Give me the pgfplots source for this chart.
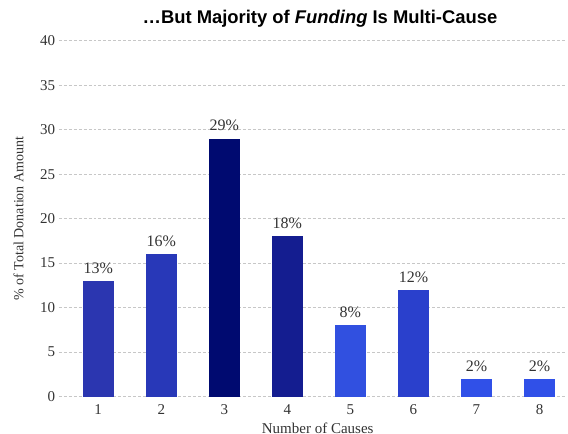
\documentclass[border=0pt]{standalone}
\usepackage{pgfplots}
\pgfplotsset{compat=1.18}
\usepackage{fontspec}
\setmainfont{Liberation Serif}
\newfontfamily\titlefont{Liberation Sans}
\definecolor{c1}{RGB}{43,54,176}
\definecolor{c2}{RGB}{40,56,184}
\definecolor{c3}{RGB}{0,10,112}
\definecolor{c4}{RGB}{20,29,144}
\definecolor{c5}{RGB}{49,80,224}
\definecolor{c6}{RGB}{42,64,204}
\definecolor{c7}{RGB}{48,80,232}
\definecolor{txt}{RGB}{51,51,51}
\begin{document}
\begin{tikzpicture}[x=1bp,y=1bp]
\path[use as bounding box] (0,0) rectangle (568,434);
\clip (0,0) rectangle (568,434);
\begin{axis}[
  at={(93,42)}, anchor=south west, scale only axis,
  width=508bp, height=356bp,
  xmin=0.372, xmax=8.43, ymin=0, ymax=40,
  ytick={0,5,...,40}, xtick={1,...,8},
  axis line style={draw=none}, tick style={draw=none},
  ymajorgrids, grid style={densely dashed, black!22},
  ticklabel style={font=\fontsize{15bp}{17bp}\selectfont, text=txt},
  /pgf/number format/assume math mode=true,
  ylabel={\% of Total Donation Amount},
  ylabel style={at={(axis description cs:-0.0787,0.5)}, anchor=center, font=\fontsize{14bp}{16bp}\selectfont, text=txt},
  xlabel={Number of Causes},
  xlabel style={at={(axis description cs:0.51,0)}, yshift=-32bp, anchor=center, font=\fontsize{15bp}{17bp}\selectfont, text=txt},
  ybar, bar width=31bp, bar shift=0pt,
  nodes near coords={\pgfmathprintnumber{\pgfplotspointmeta}\%},
  every node near coord/.append style={font=\fontsize{16bp}{18bp}\selectfont, text=txt, yshift=4bp},
]
\addplot[fill=c1, draw=none] coordinates {(1,13)};
\addplot[fill=c2, draw=none] coordinates {(2,16)};
\addplot[fill=c3, draw=none] coordinates {(3,29)};
\addplot[fill=c4, draw=none] coordinates {(4,18)};
\addplot[fill=c5, draw=none] coordinates {(5,8)};
\addplot[fill=c6, draw=none] coordinates {(6,12)};
\addplot[fill=c7, draw=none] coordinates {(7,2)};
\addplot[fill=c7, draw=none] coordinates {(8,2)};
\end{axis}
\node[font=\titlefont\bfseries\fontsize{18.4bp}{20bp}\selectfont] at (320,415) {…But Majority of \textit{Funding} Is Multi-Cause};
\end{tikzpicture}
\end{document}
